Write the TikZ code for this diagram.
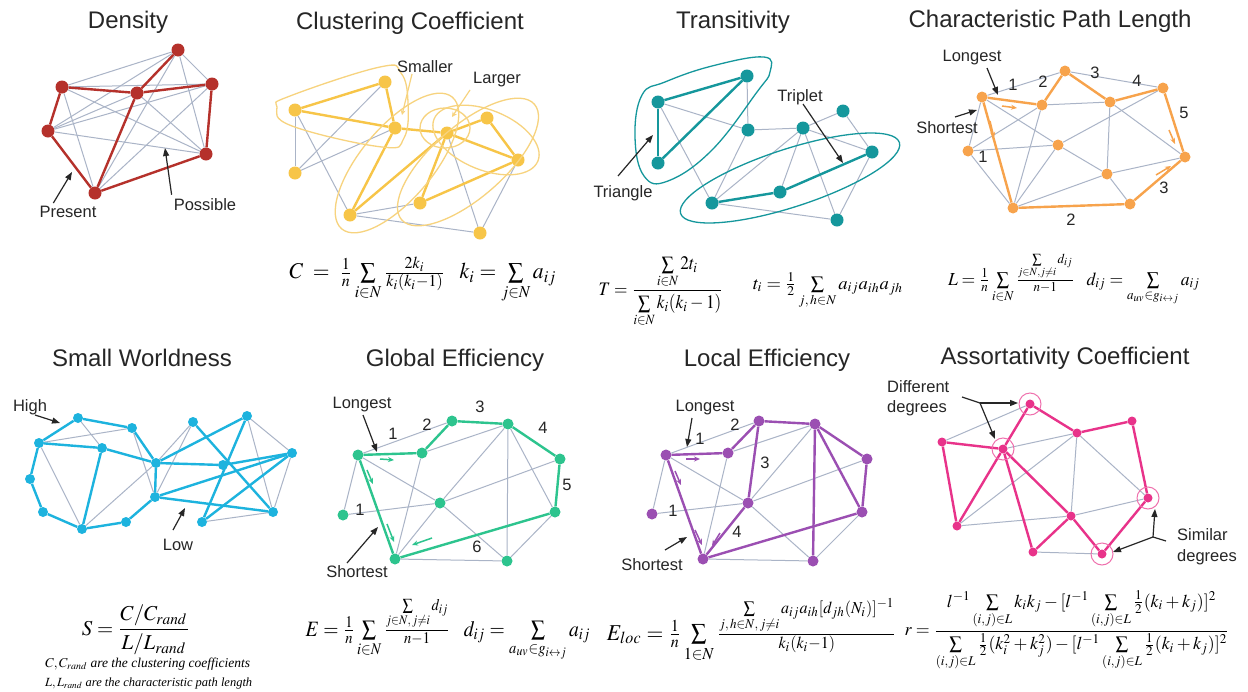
\documentclass[tikz,border=0pt]{standalone}
\usepackage{mathptmx}
\usepackage[no-math]{fontspec}
\setmainfont{Liberation Sans}
\newfontfamily\serifit{Liberation Serif}
\usepackage{graphicx}
\usetikzlibrary{arrows.meta}
\definecolor{denred}{HTML}{B5312B}
\definecolor{yel}{HTML}{F7C548}
\definecolor{yelhull}{HTML}{F7D37E}
\definecolor{tealc}{HTML}{15979C}
\definecolor{orng}{HTML}{F7A34C}
\definecolor{cyanc}{HTML}{1DB3DE}
\definecolor{grn}{HTML}{2DC48E}
\definecolor{purp}{HTML}{9B4FB2}
\definecolor{pinkc}{HTML}{E8338A}
\definecolor{egray}{HTML}{AAB4C7}
\definecolor{ink}{HTML}{262626}
\begin{document}
\begin{tikzpicture}[x=1pt,y=-1pt,
  dot/.style={circle,fill=#1,draw=none,inner sep=0pt,minimum size=12pt},
  gedge/.style={draw=egray,line width=1pt},
  cedge/.style={draw=#1,line width=2.4pt},
  ttl/.style={font=\fontsize{24}{28}\selectfont,text=ink,inner sep=0pt},
  lbl/.style={font=\fontsize{16.5}{20}\selectfont,text=ink,inner sep=0pt},
  pointer/.style={-{Triangle[length=8pt,width=6pt]},line width=1.2pt,draw=ink},
  tick/.style={-{Stealth[length=6pt,width=5pt]},line width=1.5pt,draw=#1},
  hull/.style={draw=#1,line width=1.3pt},
  fml/.style={inner sep=0pt}]
\useasboundingbox (0,0) rectangle (1248,691);
\fill[white] (0,0) rectangle (1248,691);

% ================= Density =================
\node[ttl] (tDen) at (128,22) {Density};
\begin{scope}[every node/.style={dot=denred,minimum size=13pt}]
\node (dA) at (178,50) {};
\node (dB) at (62,87) {};
\node (dC) at (137,93) {};
\node (dD) at (212,84) {};
\node (dE) at (48,131) {};
\node (dF) at (206,154) {};
\node (dG) at (95,193) {};
\end{scope}
\foreach \a/\b in {dA/dB,dA/dD,dA/dE,dA/dF,dA/dG,dB/dD,dB/dF,dB/dG,dC/dE,dC/dF,dD/dE,dD/dG,dE/dF}
  \draw[gedge] (\a) -- (\b);
\foreach \a/\b in {dB/dC,dC/dA,dC/dD,dB/dE,dE/dG,dG/dC,dG/dF,dF/dD}
  \draw[cedge=denred] (\a) -- (\b);
\node[lbl] (lPresent) at (68,212) {Present};
\node[lbl] (lPossible) at (205,205) {Possible};
\coordinate (pPres) at (72,172);
\coordinate (pPoss) at (165,148);
\draw[pointer] (lPresent.north west) ++(14,-3) -- (pPres);
\draw[pointer] (lPossible.north west) ++(-2,-4) -- (pPoss);

% ================= Clustering =================
\node[ttl] (tClu) at (410,23) {Clustering Coefficient};
\begin{scope}[every node/.style={dot=yel,minimum size=13pt}]
\node (c1) at (295,110) {};
\node (c2) at (385,82) {};
\node (c3) at (395,128) {};
\node (c4) at (295,173) {};
\node (c5) at (447,133) {};
\node (c6) at (487,118) {};
\node (c7) at (518,160) {};
\node (c8) at (420,203) {};
\node (c9) at (350,215) {};
\node (c10) at (480,233) {};
\end{scope}
\foreach \a/\b in {c1/c4,c4/c2,c4/c3,c1/c9,c9/c8,c9/c10,c5/c10,c7/c10}
  \draw[gedge] (\a) -- (\b);
\foreach \a/\b in {c1/c2,c2/c3,c1/c3,c3/c5,c5/c7,c3/c9,c9/c5,c5/c6,c6/c7,c5/c8,c8/c7}
  \draw[cedge=yel] (\a) -- (\b);
\draw[hull=yelhull] plot[smooth cycle,tension=0.7] coordinates {(277,107) (290,96) (380,67) (401,73) (408,102) (404,138) (382,147) (292,126)};
\draw[hull=yelhull,rotate around={50:(397,163)}] (397,163) ellipse [x radius=86,y radius=36];
\draw[hull=yelhull] (445,128) ellipse [x radius=25,y radius=20];
\draw[hull=yelhull,rotate around={-22:(486,140)}] (486,140) ellipse [x radius=56,y radius=30];
\draw[hull=yelhull,rotate around={41:(468,162)}] (468,162) ellipse [x radius=88,y radius=36];
\node[lbl] (lSmaller) at (425,67) {Smaller};
\node[lbl] (lLarger) at (497,80) {Larger};
\coordinate (pSm) at (402,115);
\coordinate (pLg) at (452,117);
\draw[-{Stealth[length=5pt,width=5pt]},draw=yelhull,line width=1.2pt] (412,74) -- (pSm);
\draw[-{Stealth[length=5pt,width=5pt]},draw=yelhull,line width=1.2pt] (470,90) -- (pLg);

% ================= Transitivity =================
\node[ttl] (tTra) at (733,22) {Transitivity};
\begin{scope}[every node/.style={dot=tealc,minimum size=13pt}]
\node (t1) at (658,102) {};
\node (t2) at (747,76) {};
\node (t3) at (658,163) {};
\node (t4) at (748,130) {};
\node (t5) at (803,128) {};
\node (t6) at (843,111) {};
\node (t7) at (872,152) {};
\node (t8) at (780,192) {};
\node (t9) at (712,203) {};
\node (t10) at (837,220) {};
\end{scope}
\foreach \a/\b in {t1/t4,t2/t4,t4/t5,t1/t9,t4/t9,t5/t6,t6/t7,t5/t7,t5/t8,t5/t9,t5/t10,t9/t10,t7/t10}
  \draw[gedge] (\a) -- (\b);
\foreach \a/\b in {t1/t2,t2/t3,t1/t3,t9/t8,t8/t7}
  \draw[cedge=tealc] (\a) -- (\b);
\draw[hull=tealc] plot[smooth cycle,tension=0.7] coordinates {(635,137) (642,95) (665,82) (712,66) (764,57) (770,72) (757,92) (712,150) (668,181) (644,176)};
\draw[hull=tealc,rotate around={18:(790,178)}] (790,178) ellipse [x radius=115,y radius=29];
\node[lbl] (lTriangle) at (623,193) {Triangle};
\node[lbl] (lTriplet) at (800,97) {Triplet};
\coordinate (pTri) at (653,135);
\coordinate (pTrp) at (843,163);
\draw[pointer] (618,176) -- (pTri);
\draw[pointer] (803,104) -- (pTrp);

% ================= Characteristic Path Length =================
\node[ttl] (tCPL) at (1050,21) {Characteristic Path Length};
\begin{scope}[every node/.style={dot=orng,minimum size=11pt}]
\node (p1) at (982,97) {};
\node (p2) at (1065,71) {};
\node (p3) at (1042,105) {};
\node (p4) at (1110,102) {};
\node (p5) at (1163,88) {};
\node (p6) at (968,151) {};
\node (p7) at (1058,145) {};
\node (p8) at (1185,157) {};
\node (p9) at (1107,174) {};
\node (p10) at (1013,208) {};
\node (p11) at (1130,204) {};
\end{scope}
\foreach \a/\b in {p1/p2,p2/p5,p3/p4,p1/p6,p1/p7,p7/p9,p9/p11,p6/p7,p6/p10,p3/p10,p7/p10,p7/p5,p4/p9,p4/p8,p9/p8,p9/p10,p3/p6}
  \draw[gedge] (\a) -- (\b);
\foreach \a/\b in {p1/p3,p3/p2,p2/p4,p4/p5,p5/p8,p8/p11,p11/p10,p10/p1}
  \draw[cedge=orng] (\a) -- (\b);
\draw[tick=orng] (1002,106) -- (1017,108);
\draw[tick=orng] (990,121) -- (994,138);
\draw[tick=orng] (1169,130) -- (1175,144);
\draw[tick=orng] (1156,175) -- (1171,166);
\node[lbl] (lLong1) at (972,58) {Longest};
\node[lbl] (lShort1) at (947,128) {Shortest};
\coordinate (pL1) at (998,95);
\coordinate (pS1) at (977,110);
\draw[pointer] (987,68) -- (pL1);
\draw[pointer] (955,117) -- (pS1);
\begin{scope}[every node/.style={lbl}]
\node (nA1) at (1013,85) {1};
\node (nA2) at (1043,82) {2};
\node (nA3) at (1095,73) {3};
\node (nA4) at (1137,81) {4};
\node (nA5) at (1184,113) {5};
\node (nA6) at (983,157) {1};
\node (nA7) at (1164,188) {3};
\node (nA8) at (1071,220) {2};
\end{scope}

% ================= top formulas =================
\node[fml] (fC) at (423,280) {\resizebox*{267pt}{46pt}{$C \;=\; \frac{1}{n}\sum\limits_{i\in N}\frac{2k_i}{k_i(k_i-1)}\;\;\; k_i=\sum\limits_{j\in N}a_{ij}$}};
\node[fml] (fT) at (661,292) {\resizebox*{125pt}{70pt}{$T=\displaystyle\frac{\textstyle\sum\limits_{i\in N}2t_i}{\textstyle\sum\limits_{i\in N}k_i(k_i-1)}$}};
\node[fml] (ft) at (828,291) {\resizebox*{150pt}{36pt}{$t_i=\frac{1}{2}\sum\limits_{j,\,h\in N}a_{ij}a_{ih}a_{jh}$}};
\node[fml] (fL) at (1074,280) {\resizebox*{252pt}{52pt}{$L=\frac{1}{n}\sum\limits_{i\in N}\frac{\sum\limits_{j\in N,j\neq i}d_{ij}}{n-1}\;\;\; d_{ij}=\sum\limits_{a_{uv}\in g_{i\leftrightarrow j}}a_{ij}$}};

% ================= Small Worldness =================
\node[ttl] (tSW) at (142,358) {Small Worldness};
\begin{scope}[every node/.style={dot=cyanc,minimum size=10pt}]
\node (s1) at (78,418) {};
\node (s2) at (132,428) {};
\node (s3) at (39,443) {};
\node (s4) at (102,448) {};
\node (s5) at (30,479) {};
\node (s6) at (43,512) {};
\node (s7) at (82,529) {};
\node (s8) at (126,522) {};
\node (s9) at (156,463) {};
\node (s10) at (155,497) {};
\node (s11) at (193,422) {};
\node (s12) at (247,416) {};
\node (s13) at (223,465) {};
\node (s14) at (292,453) {};
\node (s15) at (273,512) {};
\node (s16) at (202,522) {};
\end{scope}
\foreach \a/\b in {s1/s4,s3/s2,s3/s7,s2/s10,s7/s9,s9/s11,s10/s11,s12/s14,s12/s15,s14/s15,s16/s15}
  \draw[gedge] (\a) -- (\b);
\foreach \a/\b in {s3/s1,s1/s2,s2/s9,s3/s4,s4/s9,s3/s5,s5/s6,s6/s7,s4/s7,s7/s8,s8/s10,s9/s10,s9/s13,s13/s14,s9/s12,s11/s15,s12/s16,s10/s14,s10/s15,s16/s14}
  \draw[cedge=cyanc] (\a) -- (\b);
\node[lbl] (lHigh) at (30,407) {High};
\node[lbl] (lLow) at (178,545) {Low};
\coordinate (pHigh) at (60,423);
\coordinate (pLow) at (185,508);
\draw[pointer] (35,415) -- (pHigh);
\draw[pointer] (173,530) -- (pLow);

% ================= Global Efficiency =================
\node[ttl] (tGE) at (455,360) {Global Efficiency};
\begin{scope}[every node/.style={dot=grn,minimum size=11pt}]
\node (g1) at (358,455) {};
\node (g2) at (422,453) {};
\node (g3) at (452,421) {};
\node (g4) at (508,424) {};
\node (g5) at (560,459) {};
\node (g6) at (343,515) {};
\node (g7) at (440,503) {};
\node (g8) at (555,512) {};
\node (g9) at (395,559) {};
\node (g10) at (507,561) {};
\end{scope}
\foreach \a/\b in {g1/g3,g1/g6,g6/g7,g7/g5,g1/g7,g7/g10,g2/g4,g2/g9,g7/g4,g7/g9,g4/g10,g4/g8,g8/g10,g9/g10}
  \draw[gedge] (\a) -- (\b);
\foreach \a/\b in {g1/g2,g2/g3,g3/g4,g4/g5,g5/g8,g8/g9,g9/g1}
  \draw[cedge=grn] (\a) -- (\b);
\draw[tick=grn] (380,459) -- (394,460);
\draw[tick=grn] (367,470) -- (373,484);
\draw[tick=grn] (387,524) -- (394,542);
\draw[tick=grn] (432,538) -- (412,545);
\node[lbl] (lLong2) at (362,405) {Longest};
\node[lbl] (lShort2) at (357,572) {Shortest};
\coordinate (pL2) at (377,452);
\coordinate (pS2) at (378,527);
\draw[pointer] (363,415) -- (pL2);
\draw[pointer] (347,563) -- (pS2);
\begin{scope}[every node/.style={lbl}]
\node (nB1) at (393,434) {1};
\node (nB2) at (427,425) {2};
\node (nB3) at (480,407) {3};
\node (nB4) at (543,428) {4};
\node (nB5) at (567,485) {5};
\node (nB6) at (360,510) {1};
\node (nB7) at (477,547) {6};
\end{scope}

% ================= Local Efficiency =================
\node[ttl] (tLE) at (767,360) {Local Efficiency};
\begin{scope}[every node/.style={dot=purp,minimum size=11pt}]
\node (l1) at (666,455) {};
\node (l2) at (728,453) {};
\node (l3) at (759,421) {};
\node (l4) at (815,424) {};
\node (l5) at (867,459) {};
\node (l6) at (652,514) {};
\node (l7) at (748,503) {};
\node (l8) at (862,512) {};
\node (l9) at (703,559) {};
\node (l10) at (813,561) {};
\end{scope}
\foreach \a/\b in {l1/l3,l1/l6,l6/l7,l7/l5,l1/l7,l7/l10,l2/l4,l2/l9,l7/l4,l8/l10,l9/l10}
  \draw[gedge] (\a) -- (\b);
\foreach \a/\b in {l1/l2,l2/l3,l3/l7,l7/l9,l1/l9,l9/l8,l3/l4,l4/l10,l4/l8,l4/l5,l5/l8}
  \draw[cedge=purp] (\a) -- (\b);
\draw[tick=purp] (686,459) -- (700,459);
\draw[tick=purp] (675,471) -- (681,485);
\draw[tick=purp] (695,530) -- (702,545);
\draw[tick=purp] (720,533) -- (712,546);
\node[lbl] (lLong3) at (705,408) {Longest};
\node[lbl] (lShort3) at (652,565) {Shortest};
\coordinate (pL3) at (687,447);
\coordinate (pS3) at (687,537);
\draw[pointer] (692,418) -- (pL3);
\draw[pointer] (665,550) -- (pS3);
\begin{scope}[every node/.style={lbl}]
\node (nC1) at (700,439) {1};
\node (nC2) at (735,425) {2};
\node (nC3) at (765,463) {3};
\node (nC4) at (673,511) {1};
\node (nC5) at (737,532) {4};
\end{scope}

% ================= Assortativity =================
\node[ttl] (tAC) at (1065,358) {Assortativity Coefficient};
\begin{scope}[every node/.style={dot=pinkc,minimum size=9pt}]
\node (a1) at (1030,404) {};
\node (a2) at (942,442) {};
\node (a3) at (1003,449) {};
\node (a4) at (1077,433) {};
\node (a5) at (1132,421) {};
\node (a6) at (1148,498) {};
\node (a7) at (1071,516) {};
\node (a8) at (957,526) {};
\node (a9) at (1033,552) {};
\node (a10) at (1102,554) {};
\end{scope}
\foreach \a/\b in {a2/a1,a3/a4,a4/a7,a4/a6,a4/a8,a8/a7,a7/a6,a9/a10}
  \draw[gedge] (\a) -- (\b);
\foreach \a/\b in {a2/a3,a3/a1,a1/a4,a4/a5,a5/a6,a6/a10,a10/a7,a7/a9,a7/a3,a3/a9,a3/a8,a8/a2}
  \draw[cedge=pinkc] (\a) -- (\b);
\foreach \r in {a1,a3,a6,a10}
  \draw[draw=pinkc!70,line width=1pt] (\r) circle [radius=11];
\node[lbl,align=left,anchor=west,font=\fontsize{16.5}{20}\selectfont] (lDiff) at (887,398) {Different\\degrees};
\node[lbl,align=left,anchor=west,font=\fontsize{16.5}{21}\selectfont] (lSim) at (1177,547) {Similar\\degrees};
\coordinate (bD) at (980,403);
\coordinate (bS) at (1153,537);
\coordinate (pD1) at (1018,403);
\coordinate (pD2) at (995,439);
\coordinate (pS4) at (1155,509);
\coordinate (pS5) at (1113,552);
\draw[line width=1.2pt,draw=ink] (962,397) -- (bD);
\draw[pointer] (bD) -- (pD1);
\draw[pointer] (bD) -- (pD2);
\draw[line width=1.2pt,draw=ink] (1166,541) -- (bS);
\draw[pointer] (bS) -- (pS4);
\draw[pointer] (bS) -- (pS5);

% ================= bottom formulas =================
\node[fml] (fS) at (136,630) {\resizebox*{108pt}{50pt}{$S=\displaystyle\frac{C/C_{rand}}{L/L_{rand}}$}};
\node[fml,anchor=west] (fS1) at (45,664) {\resizebox{205pt}{!}{\serifit\itshape $C,C_{rand}$ are the clustering coefficients}};
\node[fml,anchor=west] (fS2) at (45,683) {\resizebox{207pt}{!}{\serifit\itshape $L,L_{rand}$ are the characteristic path length}};
\node[fml] (fE) at (448,630) {\resizebox*{285pt}{62pt}{$E=\frac{1}{n}\sum\limits_{i\in N}\frac{\sum\limits_{j\in N,\,j\neq i}d_{ij}}{n-1}\;\;\; d_{ij}=\sum\limits_{a_{uv}\in g_{i\leftrightarrow j}}a_{ij}$}};
\node[fml] (fEl) at (752,630) {\resizebox*{290pt}{64pt}{$E_{loc}=\frac{1}{n}\sum\limits_{1\in N}\frac{\sum\limits_{j,\,h\in N,\,j\neq i}a_{ij}a_{ih}[d_{jh}(N_i)]^{-1}}{k_i(k_i-1)}$}};
\node[fml] (fr) at (1067,631) {\resizebox*{325pt}{80pt}{$r=\displaystyle\frac{\textstyle l^{-1}\sum\limits_{(i,j)\in L}k_ik_j-[l^{-1}\sum\limits_{(i,j)\in L}\frac{1}{2}(k_i+k_j)]^2}{\textstyle\sum\limits_{(i,j)\in L}\frac{1}{2}(k_i^2+k_j^2)-[l^{-1}\sum\limits_{(i,j)\in L}\frac{1}{2}(k_i+k_j)]^2}$}};
\end{tikzpicture}
\end{document}
